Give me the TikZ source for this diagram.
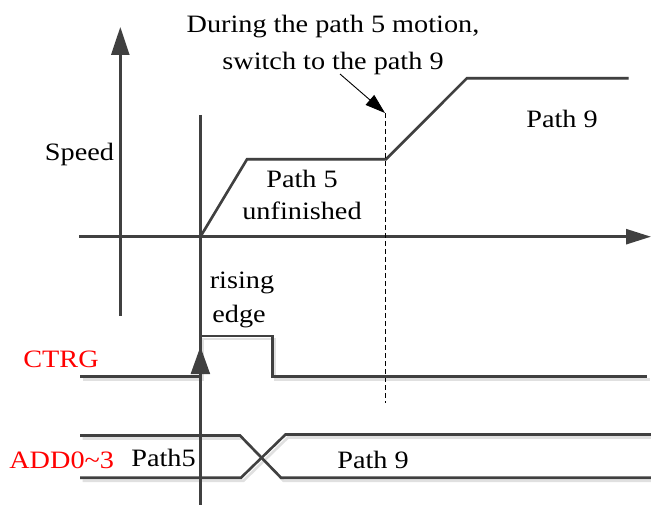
\documentclass[tikz,border=0pt]{standalone}
\usepackage{fontspec}
\setmainfont{Liberation Serif}[FakeStretch=1.13]
\usetikzlibrary{arrows.meta}
\definecolor{ln}{HTML}{404040}
\tikzset{
  sig/.style={draw=ln, line width=2.6pt, line join=miter},
  shadowline/.style={draw=black!12, line width=2.6pt},
  lbl/.style={anchor=base, inner sep=0pt, font=\fontsize{25}{28}\selectfont},
  redlbl/.style={lbl, text=red},
}
\begin{document}
\begin{tikzpicture}[x=1pt,y=-1pt]
\useasboundingbox (0,0) rectangle (651,505);
% coordinates
\coordinate (sa0) at (120.3,315.7);
\coordinate (sa1) at (120.3,27);
\coordinate (ha0) at (79,236.7);
\coordinate (ha1) at (651,236.7);
\coordinate (tr0) at (200.4,115);
\coordinate (tr1) at (200.4,505);
\coordinate (p0) at (200.4,236.7);
\coordinate (p1) at (247,159.3);
\coordinate (p2) at (386,159.3);
\coordinate (p3) at (466.8,78.3);
\coordinate (p4) at (628.6,78.3);
\coordinate (d0) at (385,113);
\coordinate (d1) at (385,403);
\coordinate (ar0) at (340,74);
% shadows
\begin{scope}[shift={(2.5,3)}]
\path[shadowline] (p0) -- (p1) -- (p2) -- (p3) -- (p4);
\path[shadowline] (80,376.7) -- (200.4,376.7) -- (200.4,336) -- (272.6,336) -- (272.6,376.7) -- (647,376.7);
\path[shadowline] (80,435.5) -- (240,435.5) -- (281,477.7) -- (651,477.7);
\path[shadowline] (80,477.7) -- (241,477.7) -- (285.5,434.5) -- (651,434.5);
\end{scope}
% axes
\draw[ln, line width=2.6pt, -{Triangle[length=28pt,width=18pt]}] (sa0) -- (sa1);
\draw[ln, line width=2.6pt, -{Triangle[length=25pt,width=15pt]}] (ha0) -- (ha1);
% trigger line
\draw[ln, line width=2.2pt] (tr0) -- (tr1);
% speed profile
\draw[sig] (p0) -- (p1) -- (p2) -- (p3) -- (p4);
% dashed
\draw[black, line width=0.8pt, dash pattern=on 5pt off 3pt] (d0) -- (d1);
% annotation arrow
\draw[black, line width=0.9pt, -{Triangle[length=20pt,width=13pt]}] (ar0) -- (d0);
% CTRG
\draw[sig] (80,376.7) -- (200.4,376.7) -- (200.4,336) -- (272.6,336) -- (272.6,376.7) -- (647,376.7);
\fill[ln] (200.4,346.7) -- (210.2,374) -- (190.6,374) -- cycle;
% ADD
\draw[sig] (80,435.5) -- (240,435.5) -- (281,477.7) -- (651,477.7);
\draw[sig] (80,477.7) -- (241,477.7) -- (285.5,434.5) -- (651,434.5);
% labels
\node[lbl] (t1) at (333,33) {During the path 5 motion,};
\node[lbl] (t2) at (333,70) {switch to the path 9};
\node[lbl] (sp) at (79.5,161) {Speed};
\node[lbl] (p5a) at (302,188) {Path 5};
\node[lbl] (p5b) at (302,220) {unfinished};
\node[lbl] (p9) at (562,128) {Path 9};
\node[lbl] (r1) at (242,289) {rising};
\node[lbl] (r2) at (239,323) {edge};
\node[redlbl] (ct) at (61,367) {CTRG};
\node[redlbl] (ad) at (61.7,468) {ADD0\char`~3};
\node[lbl] (pa5) at (163.5,466.7) {Path5};
\node[lbl] (pa9) at (373,468) {Path 9};
\end{tikzpicture}
\end{document}
